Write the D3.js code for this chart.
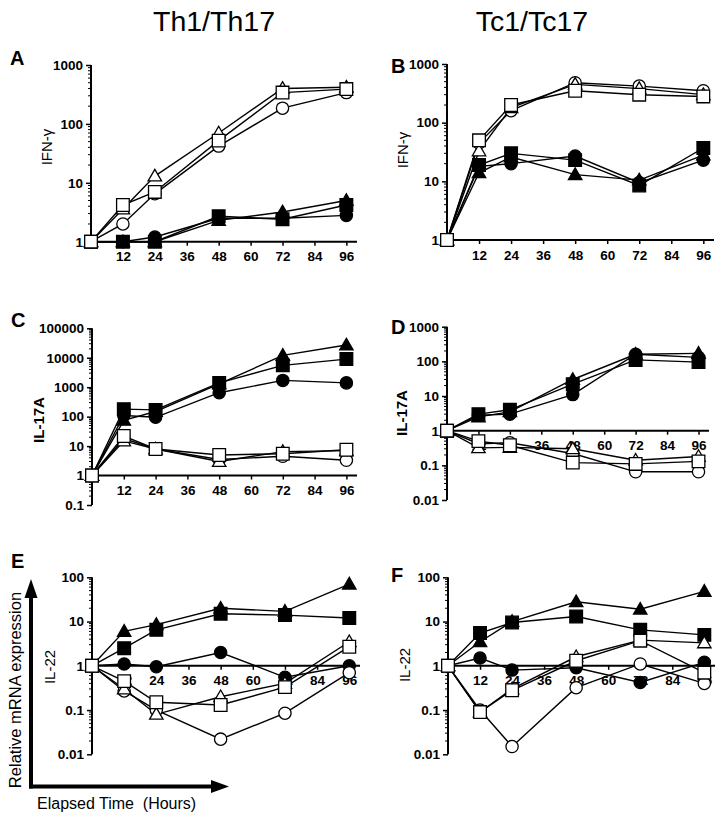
<!DOCTYPE html>
<html><head><meta charset="utf-8">
<script src="https://cdn.jsdelivr.net/npm/d3@7"></script>
<style>body{margin:0;background:#fff}svg{display:block}text{font-family:Arial,"Liberation Sans",sans-serif}</style>
</head><body><svg id="c" width="723" height="820"></svg>
<script>
const hours = [0, 12, 24, 48, 72, 96];
const xTicks = [12, 24, 36, 48, 60, 72, 84, 96];
// Panel A: IFN-γ, Th1/Th17
const A_openCircle = [1, 2, 6.5, 42, 185, 340];
const A_openTriangle = [1, 3.6, 13, 70, 400, 420];
const A_openSquare = [1, 4.2, 7, 52, 340, 390];
const A_filledCircle = [1, 1, 1.2, 2.5, 2.5, 2.8];
const A_filledTriangle = [1, 1, 1, 2.3, 3.2, 5];
const A_filledSquare = [1, 1, 1, 2.7, 2.4, 4.2];
// Panel B: IFN-γ, Tc1/Tc17
const B_openCircle = [1, 45, 160, 480, 420, 350];
const B_openTriangle = [1, 33, 180, 450, 380, 300];
const B_openSquare = [1, 50, 200, 350, 300, 280];
const B_filledCircle = [1, 18, 20, 27, 9.5, 23];
const B_filledTriangle = [1, 14, 26, 13, 10.5, 28];
const B_filledSquare = [1, 19, 30, 23, 8.5, 37];
// Panel C: IL-17A, Th1/Th17
const C_openCircle = [1, 18, 8, 3.5, 4.5, 3.3];
const C_openTriangle = [1, 15, 8, 3, 6.5, 7];
const C_openSquare = [1, 22, 8, 5, 5.5, 7.5];
const C_filledCircle = [1, 110, 95, 650, 1700, 1400];
const C_filledTriangle = [1, 75, 150, 1300, 12000, 27000];
const C_filledSquare = [1, 180, 170, 1400, 5500, 9000];
// Panel D: IL-17A, Tc1/Tc17
const D_openCircle = [1, 0.42, 0.45, 0.22, 0.065, 0.065];
const D_openTriangle = [1, 0.32, 0.33, 0.3, 0.14, 0.18];
const D_openSquare = [1, 0.5, 0.38, 0.12, 0.11, 0.13];
const D_filledCircle = [1, 2.8, 3, 11, 160, 130];
const D_filledTriangle = [1, 2.5, 3.5, 30, 160, 170];
const D_filledSquare = [1, 3, 4, 22, 110, 95];
// Panel E: IL-22, Th1/Th17
const E_openCircle = [1, 0.27, 0.1, 0.022, 0.085, 0.7];
const E_openTriangle = [1, 0.3, 0.08, 0.2, 0.4, 3.5];
const E_openSquare = [1, 0.45, 0.15, 0.13, 0.33, 2.7];
const E_filledCircle = [1, 1.1, 0.95, 2, 0.55, 1.0];
const E_filledTriangle = [1, 6, 8.5, 20, 17, 70];
const E_filledSquare = [1, 2.5, 6.5, 15, 14, 12];
// Panel F: IL-22, Tc1/Tc17
const F_openCircle = [1, 0.1, 0.015, 0.32, 1.1, 0.4];
const F_openTriangle = [1, 0.09, 0.3, 1.6, 3.8, 3.3];
const F_openSquare = [1, 0.09, 0.28, 1.3, 3.7, 0.7];
const F_filledCircle = [1, 1.5, 0.8, 0.9, 0.42, 1.2];
const F_filledTriangle = [1, 3.5, 10, 28, 19, 48];
const F_filledSquare = [1, 5.5, 9.5, 13, 6.5, 5];

const groupTitles = ["Th1/Th17", "Tc1/Tc17"];

const svg = d3.select("#c");

function seriesOf(oc, ot, os, fc, ft, fs) {
  return [
    {shape: "circle", fill: "#000", v: fc},
    {shape: "triangle", fill: "#000", v: ft},
    {shape: "square", fill: "#000", v: fs},
    {shape: "circle", fill: "#fff", v: oc},
    {shape: "triangle", fill: "#fff", v: ot},
    {shape: "square", fill: "#fff", v: os}
  ];
}

const panels = [
  {letter: "A", lx: 10, ly: 65, label: "IFN-\u03b3", labX: 47, labY: 147, x0: 91, x1: 357, yTop: 65, yBot: 241.7, dom: [1, 1000], xAxisAt: 1,
   series: seriesOf(A_openCircle, A_openTriangle, A_openSquare, A_filledCircle, A_filledTriangle, A_filledSquare)},
  {letter: "B", lx: 391, ly: 73, label: "IFN-\u03b3", labX: 403, labY: 150, x0: 447, x1: 714, yTop: 64, yBot: 240, dom: [1, 1000], xAxisAt: 1,
   series: seriesOf(B_openCircle, B_openTriangle, B_openSquare, B_filledCircle, B_filledTriangle, B_filledSquare)},
  {letter: "C", lx: 11, ly: 327, label: "IL-17A", labX: 39, labY: 420, x0: 92, x1: 357, yTop: 328.3, yBot: 505, dom: [0.1, 100000], xAxisAt: 1, labBold: true,
   series: seriesOf(C_openCircle, C_openTriangle, C_openSquare, C_filledCircle, C_filledTriangle, C_filledSquare)},
  {letter: "D", lx: 391, ly: 334, label: "IL-17A", labX: 402, labY: 413, x0: 447, x1: 709, yTop: 326.7, yBot: 500, dom: [0.01, 1000], xAxisAt: 1, labBold: true,
   series: seriesOf(D_openCircle, D_openTriangle, D_openSquare, D_filledCircle, D_filledTriangle, D_filledSquare)},
  {letter: "E", lx: 11, ly: 568, label: "IL-22", labX: 50, labY: 667, x0: 92, x1: 360, yTop: 577.3, yBot: 754.3, dom: [0.01, 100], xAxisAt: 1,
   series: seriesOf(E_openCircle, E_openTriangle, E_openSquare, E_filledCircle, E_filledTriangle, E_filledSquare)},
  {letter: "F", lx: 391, ly: 582, label: "IL-22", labX: 405, labY: 665, x0: 448, x1: 715, yTop: 577.3, yBot: 754.3, dom: [0.01, 100], xAxisAt: 1,
   series: seriesOf(F_openCircle, F_openTriangle, F_openSquare, F_filledCircle, F_filledTriangle, F_filledSquare)}
];

// Group titles
svg.append("text").attr("x", 214).attr("y", 31).attr("text-anchor", "middle").attr("font-size", 28.5).text(groupTitles[0]);
svg.append("text").attr("x", 532).attr("y", 31).attr("text-anchor", "middle").attr("font-size", 28.5).text(groupTitles[1]);

const sym = {
  circle: d3.symbol().type(d3.symbolCircle).size(118),
  square: d3.symbol().type(d3.symbolSquare).size(160),
  triangle: d3.symbol().type(d3.symbolTriangle).size(78)
};

panels.forEach(p => {
  const x = d3.scaleLinear().domain([0, 100]).range([p.x0, p.x1]);
  const y = d3.scaleLog().domain(p.dom).range([p.yBot, p.yTop]);
  const g = svg.append("g");

  // panel letter
  g.append("text").attr("x", p.lx).attr("y", p.ly).attr("font-size", 20).attr("font-weight", "bold").text(p.letter);

  // y label
  g.append("text").attr("transform", `translate(${p.labX},${p.labY}) rotate(-90)`)
    .attr("text-anchor", "middle").attr("dy", "0.35em").attr("font-size", 15)
    .attr("font-weight", p.labBold ? "bold" : "normal").text(p.label);

  // y axis with log ticks
  const majors = [];
  for (let e = Math.round(Math.log10(p.dom[0])); e <= Math.round(Math.log10(p.dom[1])); e++) majors.push(Math.pow(10, e));
  const minors = [];
  majors.slice(0, -1).forEach(m => { for (let k = 2; k <= 9; k++) minors.push(m * k); });
  const yAxis = d3.axisLeft(y).tickValues(majors).tickSize(5).tickPadding(3)
    .tickFormat(d => d >= 1 ? d3.format("d")(d) : String(+d.toPrecision(1)));
  const ya = g.append("g").attr("transform", `translate(${p.x0},0)`).call(yAxis);
  ya.select(".domain").attr("d", `M0,${p.yTop}V${p.yBot}`).attr("stroke-width", 2);
  ya.selectAll(".tick line").attr("stroke-width", 1.5);
  ya.selectAll(".tick text").attr("font-size", 13.5).attr("font-weight", "bold").attr("font-family", "Arial, 'Liberation Sans', sans-serif").attr("fill", "#000");
  ya.append("g").selectAll("line").data(minors).join("line")
    .attr("x1", -3).attr("x2", 0).attr("y1", d => y(d)).attr("y2", d => y(d)).attr("stroke", "#000").attr("stroke-width", 1);

  // x axis at y = 1
  const xAxis = d3.axisBottom(x).tickValues(xTicks).tickSize(4).tickPadding(6).tickFormat(d3.format("d"));
  const xa = g.append("g").attr("transform", `translate(0,${y(p.xAxisAt)})`).call(xAxis);
  xa.select(".domain").attr("d", `M${p.x0},0H${p.x1}`).attr("stroke-width", 2);
  xa.selectAll(".tick line").attr("stroke-width", 1.5);
  xa.selectAll(".tick text").attr("font-size", 13.5).attr("font-weight", "bold").attr("font-family", "Arial, 'Liberation Sans', sans-serif").attr("fill", "#000");

  // lines
  const line = d3.line().x((d, i) => x(hours[i])).y(d => y(d));
  p.series.forEach(s => {
    g.append("path").attr("d", line(s.v)).attr("fill", "none").attr("stroke", "#000").attr("stroke-width", 1.4);
  });
  // markers
  p.series.forEach(s => {
    g.append("g").selectAll("path").data(s.v).join("path")
      .attr("d", sym[s.shape])
      .attr("transform", (d, i) => `translate(${x(hours[i])},${y(d) + (s.shape === "triangle" ? 1 : 0)})`)
      .attr("fill", s.fill).attr("stroke", "#000").attr("stroke-width", 1.3);
  });
});

// Overall axis arrows for panel E
const ar = svg.append("g");
ar.append("line").attr("x1", 31).attr("y1", 788.5).attr("x2", 31).attr("y2", 595).attr("stroke", "#000").attr("stroke-width", 4);
ar.append("path").attr("d", "M31,579 L24.5,598 L37.5,598 Z").attr("fill", "#000");
ar.append("line").attr("x1", 29).attr("y1", 786.5).attr("x2", 214).attr("y2", 786.5).attr("stroke", "#000").attr("stroke-width", 4);
ar.append("path").attr("d", "M229,786.5 L211,780 L211,793 Z").attr("fill", "#000");
ar.append("text").attr("transform", "translate(15,690) rotate(-90)").attr("text-anchor", "middle").attr("dy", "0.35em").attr("font-size", 16.5).text("Relative mRNA expression");
ar.append("text").attr("x", 37).attr("y", 809).attr("font-size", 16).style("white-space", "pre").text("Elapsed Time  (Hours)");
</script></body></html>
